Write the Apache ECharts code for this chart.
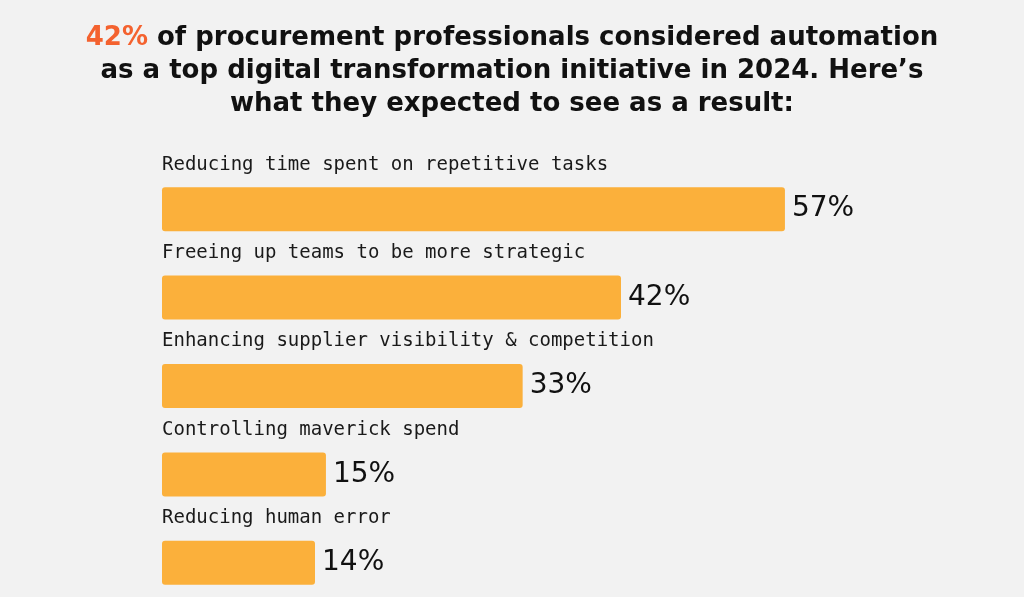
<!DOCTYPE html>
<html>
<head>
<meta charset="utf-8">
<script src="https://cdn.jsdelivr.net/npm/echarts@6/dist/echarts.min.js"></script>
<style>
  html, body { margin: 0; padding: 0; background: #f2f2f2; overflow: hidden; }
  #chart { width: 1024px; height: 607px; }
</style>
</head>
<body>
<div id="chart"></div>
<script>
// data
var categories = [
  'Reducing time spent on repetitive tasks',
  'Freeing up teams to be more strategic',
  'Enhancing supplier visibility & competition',
  'Controlling maverick spend',
  'Reducing human error'
];
var values = [57, 42, 33, 15, 14];
var titleLines = [
  '{o|42%} of procurement professionals considered automation',
  'as a top digital transformation initiative in 2024. Here\u2019s',
  'what they expected to see as a result:'
];

var chart = echarts.init(document.getElementById('chart'));
chart.setOption({
  backgroundColor: '#f2f2f2',
  animation: false,
  title: {
    text: titleLines.join('\n'),
    left: 'center',
    top: 17,
    textStyle: {
      fontFamily: 'DejaVu Sans',
      fontWeight: 'bold',
      fontSize: 26,
      lineHeight: 33,
      color: '#111111',
      align: 'center',
      rich: {
        o: {
          fontFamily: 'DejaVu Sans',
          fontWeight: 'bold',
          fontSize: 26,
          lineHeight: 33,
          color: '#f4622f'
        }
      }
    }
  },
  grid: {
    left: 162,
    right: 97,
    top: 165,
    bottom: 0
  },
  xAxis: {
    type: 'value',
    min: 0,
    max: 70,
    show: false
  },
  yAxis: {
    type: 'category',
    inverse: true,
    data: categories,
    show: false
  },
  series: [{
    type: 'bar',
    data: values,
    barWidth: 44,
    itemStyle: {
      color: '#fbb03b',
      borderRadius: 3
    },
    label: {
      show: true,
      position: 'right',
      distance: 7,
      formatter: '{c}%',
      fontFamily: 'DejaVu Sans',
      fontSize: 28,
      color: '#111111'
    }
  }, {
    // category captions above each bar
    type: 'bar',
    data: values,
    barWidth: 44,
    barGap: '-100%',
    silent: true,
    itemStyle: { color: 'rgba(0,0,0,0)' },
    label: {
      show: true,
      position: [0, -32],
      align: 'left',
      verticalAlign: 'top',
      formatter: function (p) { return categories[p.dataIndex]; },
      fontFamily: 'DejaVu Sans Mono',
      fontSize: 19,
      color: '#1a1a1a'
    }
  }]
});
</script>
</body>
</html>
